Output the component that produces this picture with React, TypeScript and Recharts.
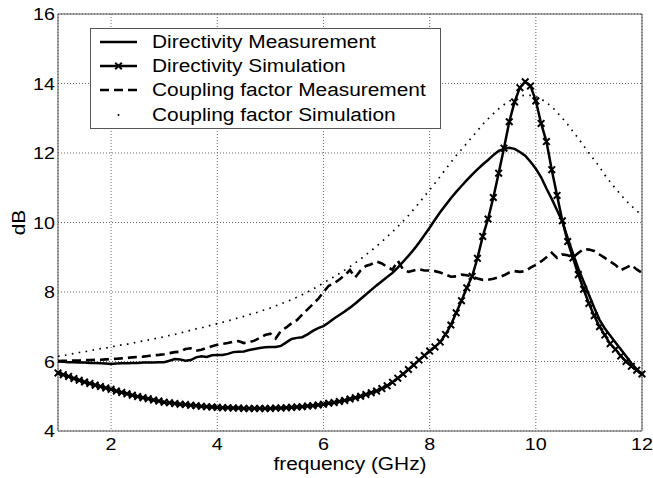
import React from 'react';
import { LineChart, Line, XAxis, YAxis, CartesianGrid, ReferenceArea, Label } from 'recharts';

// frequency points (GHz)
const freq = [
  1.0, 1.1, 1.2, 1.3, 1.4, 1.5, 1.6, 1.7, 1.8, 1.9,
  2.0, 2.1, 2.2, 2.3, 2.4, 2.5, 2.6, 2.7, 2.8, 2.9,
  3.0, 3.1, 3.2, 3.3, 3.4, 3.5, 3.6, 3.7, 3.8, 3.9,
  4.0, 4.1, 4.2, 4.3, 4.4, 4.5, 4.6, 4.7, 4.8, 4.9,
  5.0, 5.1, 5.2, 5.3, 5.4, 5.5, 5.6, 5.7, 5.8, 5.9,
  6.0, 6.1, 6.2, 6.3, 6.4, 6.5, 6.6, 6.7, 6.8, 6.9,
  7.0, 7.1, 7.2, 7.3, 7.4, 7.5, 7.6, 7.7, 7.8, 7.9,
  8.0, 8.1, 8.2, 8.3, 8.4, 8.5, 8.6, 8.7, 8.8, 8.9,
  9.0, 9.1, 9.2, 9.3, 9.4, 9.5, 9.6, 9.7, 9.8, 9.9,
  10.0, 10.1, 10.2, 10.3, 10.4, 10.5, 10.6, 10.7, 10.8, 10.9,
  11.0, 11.1, 11.2, 11.3, 11.4, 11.5, 11.6, 11.7, 11.8, 11.9,
  12.0,
];

const directivityMeas = [
  6.00, 5.99, 5.98, 5.98, 5.97, 5.97, 5.96, 5.96, 5.95, 5.94,
  5.93, 5.94, 5.95, 5.95, 5.96, 5.96, 5.97, 5.97, 5.97, 5.98,
  5.98, 6.02, 6.07, 6.06, 6.02, 6.04, 6.12, 6.15, 6.13, 6.18,
  6.19, 6.19, 6.22, 6.27, 6.28, 6.29, 6.33, 6.36, 6.39, 6.41,
  6.42, 6.42, 6.45, 6.55, 6.65, 6.68, 6.70, 6.78, 6.88, 6.96,
  7.02, 7.12, 7.24, 7.34, 7.44, 7.55, 7.67, 7.80, 7.93, 8.06,
  8.19, 8.31, 8.43, 8.55, 8.70, 8.87, 9.04, 9.22, 9.42, 9.63,
  9.85, 10.08, 10.30, 10.50, 10.70, 10.88, 11.05, 11.22, 11.38, 11.53,
  11.67, 11.80, 11.94, 12.06, 12.12, 12.15, 12.12, 12.03, 11.92, 11.75,
  11.55, 11.30, 10.98, 10.68, 10.35, 10.03, 9.55, 9.10, 8.68, 8.30,
  7.92, 7.55, 7.20, 6.95, 6.75, 6.55, 6.35, 6.15, 5.95, 5.78,
  5.62,
];

const directivitySim = [
  5.67, 5.62, 5.57, 5.51, 5.46, 5.41, 5.37, 5.32, 5.28, 5.24,
  5.20, 5.15, 5.11, 5.07, 5.03, 4.99, 4.96, 4.93, 4.89, 4.86,
  4.83, 4.81, 4.79, 4.77, 4.76, 4.74, 4.73, 4.71, 4.70, 4.69,
  4.68, 4.67, 4.67, 4.66, 4.66, 4.65, 4.65, 4.65, 4.65, 4.65,
  4.65, 4.66, 4.66, 4.67, 4.68, 4.69, 4.70, 4.72, 4.73, 4.75,
  4.77, 4.80, 4.82, 4.85, 4.88, 4.92, 4.96, 5.00, 5.05, 5.10,
  5.15, 5.22, 5.30, 5.40, 5.52, 5.64, 5.77, 5.90, 6.04, 6.17,
  6.30, 6.42, 6.56, 6.78, 7.05, 7.40, 7.75, 8.12, 8.45, 8.97,
  9.60, 10.10, 10.72, 11.42, 12.14, 12.90, 13.47, 13.88, 14.05, 13.93,
  13.50, 12.85, 12.33, 11.52, 10.78, 10.05, 9.45, 8.98, 8.50, 8.08,
  7.67, 7.32, 7.00, 6.76, 6.51, 6.35, 6.16, 6.00, 5.86, 5.75,
  5.64,
];

const couplingMeas = [
  6.01, 6.02, 6.02, 6.03, 6.03, 6.04, 6.04, 6.05, 6.05, 6.06,
  6.07, 6.08, 6.09, 6.10, 6.12, 6.13, 6.14, 6.16, 6.18, 6.19,
  6.21, 6.24, 6.27, 6.28, 6.36, 6.38, 6.31, 6.34, 6.39, 6.44,
  6.48, 6.51, 6.53, 6.57, 6.59, 6.53, 6.56, 6.60, 6.68, 6.76,
  6.80, 6.66, 6.88, 6.98, 7.10, 7.19, 7.35, 7.50, 7.65, 7.80,
  8.00, 8.18, 8.25, 8.36, 8.48, 8.63, 8.42, 8.62, 8.75, 8.80,
  8.88, 8.82, 8.72, 8.64, 8.90, 8.65, 8.58, 8.62, 8.66, 8.62,
  8.62, 8.60, 8.56, 8.50, 8.44, 8.45, 8.50, 8.48, 8.44, 8.39,
  8.35, 8.35, 8.38, 8.42, 8.48, 8.56, 8.60, 8.58, 8.60, 8.70,
  8.78, 8.88, 9.00, 9.13, 8.98, 9.08, 9.06, 9.00, 9.12, 9.24,
  9.22, 9.18, 9.08, 8.98, 8.88, 8.78, 8.63, 8.70, 8.78, 8.65,
  8.55,
];

const couplingSim = [
  6.15, 6.17, 6.20, 6.23, 6.26, 6.28, 6.31, 6.34, 6.37, 6.39,
  6.42, 6.45, 6.48, 6.50, 6.53, 6.56, 6.59, 6.62, 6.65, 6.68,
  6.71, 6.75, 6.78, 6.82, 6.86, 6.90, 6.94, 6.97, 7.01, 7.05,
  7.09, 7.13, 7.17, 7.21, 7.26, 7.30, 7.35, 7.39, 7.44, 7.49,
  7.54, 7.60, 7.66, 7.72, 7.78, 7.85, 7.92, 8.00, 8.08, 8.17,
  8.26, 8.35, 8.44, 8.53, 8.63, 8.73, 8.84, 8.95, 9.07, 9.19,
  9.32, 9.45, 9.59, 9.73, 9.88, 10.04, 10.20, 10.38, 10.56, 10.75,
  10.94, 11.13, 11.33, 11.53, 11.73, 11.93, 12.10, 12.28, 12.46, 12.64,
  12.82, 12.98, 13.13, 13.27, 13.39, 13.49, 13.57, 13.63, 13.66, 13.66,
  13.62, 13.55, 13.45, 13.33, 13.17, 13.00, 12.82, 12.62, 12.42, 12.21,
  12.00, 11.80, 11.60, 11.37, 11.17, 10.98, 10.80, 10.63, 10.48, 10.34,
  10.20,
];

const xTicks = [2, 4, 6, 8, 10, 12];
const yTicks = [4, 6, 8, 10, 12, 14, 16];

const legendNames = [
  'Directivity Measurement',
  'Directivity Simulation',
  'Coupling factor Measurement',
  'Coupling factor Simulation',
];

const FONT = '"Liberation Sans", Arial, Helvetica, sans-serif';
const STRETCH = 1.16;

const data = freq.map((f, i) => ({
  f,
  dirMeas: directivityMeas[i],
  dirSim: directivitySim[i],
  cplMeas: couplingMeas[i],
  cplSim: couplingSim[i],
}));

const XMark = (props: any) => {
  const { cx, cy, index } = props;
  if (cx == null || cy == null) return <g key={index} />;
  const s = 3.3;
  return (
    <path
      key={index}
      d={`M${cx - s},${cy - s}L${cx + s},${cy + s}M${cx - s},${cy + s}L${cx + s},${cy - s}`}
      stroke="#000"
      strokeWidth={2}
      fill="none"
    />
  );
};

const XTick = (props: any) => {
  const { x, y, payload } = props;
  return (
    <g transform={`translate(${x},${y}) scale(${STRETCH},1)`}>
      <text textAnchor="middle" dy="0.71em" fontSize={17} fontFamily={FONT} fill="#000">
        {payload.value}
      </text>
    </g>
  );
};

const YTick = (props: any) => {
  const { x, y, payload } = props;
  return (
    <g transform={`translate(${x},${y}) scale(${STRETCH},1)`}>
      <text textAnchor="end" dy="0.36em" fontSize={17} fontFamily={FONT} fill="#000">
        {payload.value}
      </text>
    </g>
  );
};

function ChartLegend() {
  const rowY = [14, 38, 62, 87];
  return (
    <svg width={352} height={102} style={{ position: 'absolute', left: 90, top: 28 }}>
      <rect x={0.5} y={0.5} width={350} height={100} fill="#fff" stroke="#555" />
      {/* samples */}
      <line x1={10} x2={47} y1={rowY[0]} y2={rowY[0]} stroke="#000" strokeWidth={2.6} />
      <line x1={10} x2={47} y1={rowY[1]} y2={rowY[1]} stroke="#000" strokeWidth={2.6} />
      <XMark cx={28.5} cy={rowY[1]} index={0} />
      <line x1={10} x2={47} y1={rowY[2]} y2={rowY[2]} stroke="#000" strokeWidth={2.6} strokeDasharray="9 5" />
      <circle cx={28.5} cy={rowY[3]} r={1} fill="#000" />
      {legendNames.map((name, i) => (
        <g key={name} transform={`translate(62,${rowY[i] + 6}) scale(${STRETCH},1)`}>
          <text fontSize={18} fontFamily={FONT} fill="#000">{name}</text>
        </g>
      ))}
    </svg>
  );
}

export default function App() {
  return (
    <div style={{ position: 'absolute', left: 0, top: 0, width: 653, height: 478, background: '#fff' }}>
      <LineChart width={653} height={478} data={data} margin={{ top: 14, right: 11, bottom: 0, left: 0 }}>
        <CartesianGrid stroke="#666" strokeDasharray="1 2" />
        <XAxis
          dataKey="f"
          type="number"
          domain={[1, 12]}
          ticks={xTicks}
          height={47}
          axisLine={false}
          tickLine={false}
          tickSize={5}
          tickMargin={2}
          tick={<XTick />}
        >
          <Label
            content={({ viewBox }: any) => (
              <g transform={`translate(${viewBox.x + viewBox.width / 2},${viewBox.y + 39}) scale(${STRETCH},1)`}>
                <text textAnchor="middle" fontSize={18} fontFamily={FONT} fill="#000">frequency (GHz)</text>
              </g>
            )}
          />
        </XAxis>
        <YAxis
          type="number"
          domain={[4, 16]}
          ticks={yTicks}
          width={58}
          axisLine={false}
          tickLine={false}
          tickSize={3}
          tickMargin={0}
          tick={<YTick />}
        >
          <Label
            content={({ viewBox }: any) => (
              <g transform={`translate(${viewBox.x + 25},${viewBox.y + viewBox.height / 2}) rotate(-90) scale(${STRETCH},1)`}>
                <text textAnchor="middle" fontSize={18} fontFamily={FONT} fill="#000">dB</text>
              </g>
            )}
          />
        </YAxis>
        <Line dataKey="dirMeas" type="linear" stroke="#000" strokeWidth={2.5} dot={false} isAnimationActive={false} />
        <Line dataKey="dirSim" type="linear" stroke="#000" strokeWidth={2.5} dot={XMark} isAnimationActive={false} />
        <Line dataKey="cplMeas" type="linear" stroke="#000" strokeWidth={2.6} strokeDasharray="9 5" dot={false} isAnimationActive={false} />
        <Line dataKey="cplSim" type="monotone" stroke="#000" strokeWidth={1.7} strokeDasharray="1.6 5.4" dot={false} isAnimationActive={false} />
        <ReferenceArea x1={1} x2={12} y1={4} y2={16} fill="none" stroke="#555" strokeWidth={1} ifOverflow="visible" />
      </LineChart>
      <ChartLegend />
    </div>
  );
}
